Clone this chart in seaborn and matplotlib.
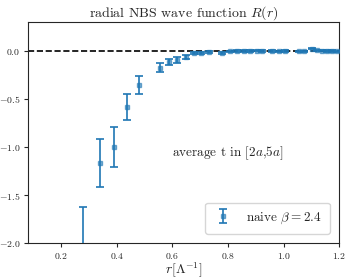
import numpy as np
import matplotlib
matplotlib.use("Agg")
import matplotlib.pyplot as plt
from matplotlib.ticker import FuncFormatter
import seaborn as sns

# values
r = [0.277, 0.338, 0.391, 0.436, 0.478, 0.554, 0.586, 0.616, 0.649, 0.676,
     0.704, 0.730, 0.778, 0.808, 0.832, 0.856, 0.880, 0.904, 0.922, 0.958,
     0.982, 1.006, 1.054, 1.072, 1.104, 1.120, 1.138, 1.156, 1.174, 1.192]
R = [-2.10, -1.17, -1.00, -0.585, -0.352, -0.173, -0.118, -0.097, -0.059, -0.024,
     -0.024, -0.010, -0.025, -0.005, 0.0, 0.0, 0.002, 0.003, 0.0, 0.0,
     -0.005, -0.003, -0.005, -0.005, 0.025, 0.005, 0.003, 0.0, -0.002, -0.005]
R_err = [0.48, 0.25, 0.21, 0.135, 0.095, 0.047, 0.03, 0.03, 0.02, 0.012,
         0.012, 0.01, 0.01, 0.008, 0.008, 0.008, 0.008, 0.008, 0.008, 0.008,
         0.008, 0.008, 0.008, 0.008, 0.008, 0.008, 0.008, 0.008, 0.008, 0.008]
xticks = [0.2, 0.4, 0.6, 0.8, 1.0, 1.2]
yticks = [-2.0, -1.5, -1.0, -0.5, 0.0]

sns.set_style("ticks")
plt.rcParams["font.family"] = "serif"
plt.rcParams["font.serif"] = ["cmr10", "DejaVu Serif"]
plt.rcParams["mathtext.fontset"] = "cm"

fig = plt.figure(figsize=(3.5, 2.8), dpi=100)
ax = fig.add_axes([0.08, 0.132, 0.889, 0.789])

blue = sns.color_palette("tab10")[0]
ax.axhline(0, color="black", ls="--", lw=1.2, zorder=1)
ax.errorbar(r, R, yerr=R_err, fmt="s", color=blue, ms=3, mfc=(*blue, 0.6),
            capsize=3, elinewidth=1.2, capthick=1.2, label=r"naive $\beta=2.4$", zorder=3)

ax.set_xlim(0.08, 1.2)
ax.set_ylim(-2.0, 0.3)
ax.set_xticks(xticks)
ax.set_yticks(yticks)
tick_fmt = FuncFormatter(lambda v, pos: f"${v:.1f}$")
ax.xaxis.set_major_formatter(tick_fmt)
ax.yaxis.set_major_formatter(tick_fmt)
ax.tick_params(labelsize=7, length=3, pad=2.5)
ax.set_title(r"radial NBS wave function $R(r)$", fontsize=10, pad=4)
ax.set_xlabel(r"$r[\Lambda^{-1}]$", fontsize=10, labelpad=0)
ax.text(0.6, -1.06, r"average t in [$2a$,$5a$]", fontsize=9.5, va="center")
ax.legend(loc="lower right", fontsize=9.5, handlelength=1.5, borderpad=0.6,
          borderaxespad=0.7, handletextpad=1.0)

fig.savefig("out.png", dpi=100)
